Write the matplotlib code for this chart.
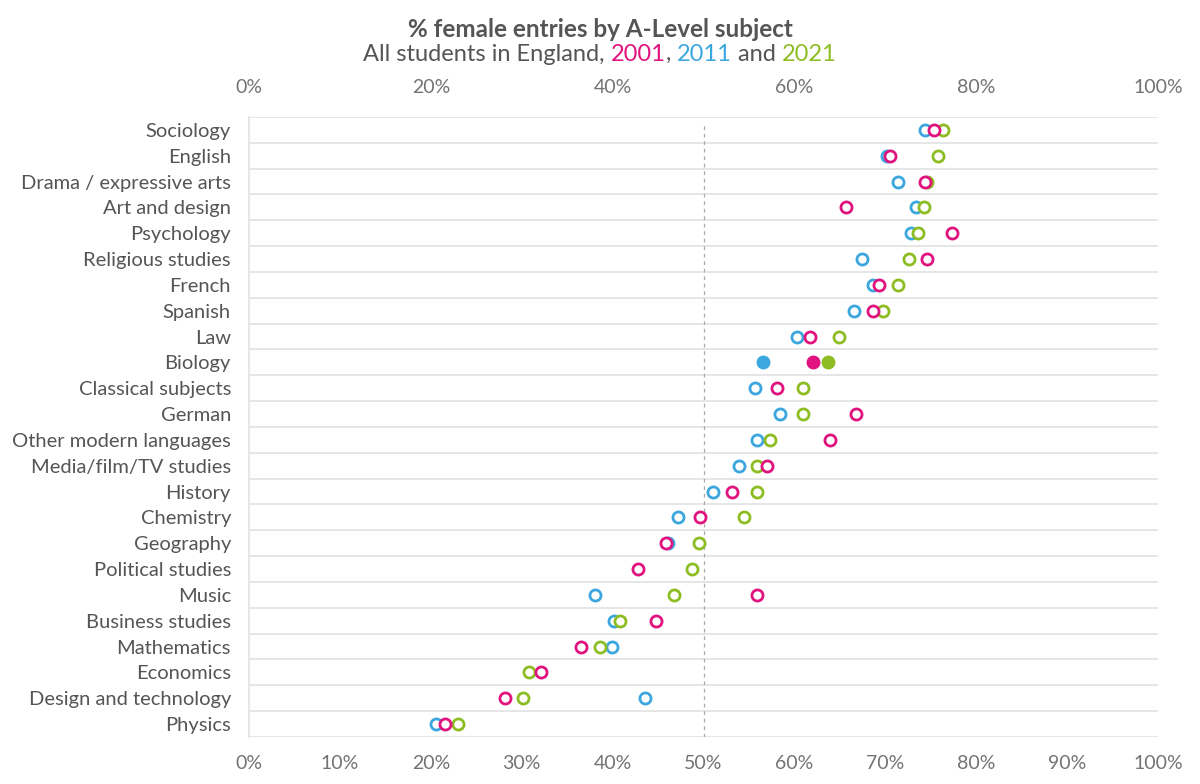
import matplotlib.pyplot as plt
import numpy as np

plt.rcParams['font.family'] = ['Lato', 'DejaVu Sans']

subjects = ['Sociology', 'English', 'Drama / expressive arts', 'Art and design', 'Psychology',
            'Religious studies', 'French', 'Spanish', 'Law', 'Biology', 'Classical subjects',
            'German', 'Other modern languages', 'Media/film/TV studies', 'History', 'Chemistry',
            'Geography', 'Political studies', 'Music', 'Business studies', 'Mathematics',
            'Economics', 'Design and technology', 'Physics']

# % female entries (nan = not shown)
pct2001 = [75.4, 70.5, 74.4, 65.7, 77.3, 74.6, 69.3, 68.7, 61.7, 62.0, 58.1, 66.8,
           63.9, 57.0, 53.1, 49.6, 45.9, 42.8, 55.9, 44.8, 36.5, 32.1, 28.2, 21.6]
pct2011 = [74.4, 70.2, 71.4, 73.4, 72.8, 67.4, 68.6, 66.6, 60.3, 56.5, 55.7, 58.4,
           55.9, 53.9, 51.0, 47.2, 46.1, np.nan, 38.1, 40.2, 39.9, np.nan, 43.6, 20.6]
pct2021 = [76.3, 75.8, 74.6, 74.3, 73.6, 72.6, 71.4, 69.7, 64.9, 63.7, 61.0, 60.9,
           57.3, 55.9, 55.9, 54.5, 49.5, 48.7, 46.8, 40.8, 38.6, 30.8, 30.1, 23.0]
highlight = 'Biology'

c2001 = '#E0137F'
c2011 = '#3BA7DE'
c2021 = '#8DBD22'
text_col = '#555555'
tick_col = '#737373'

fig = plt.figure(figsize=(12, 7.84), dpi=100)
ax = fig.add_axes([0.2075, 0.06, 0.7575, 0.7908])

y = np.arange(len(subjects))
hi = subjects.index(highlight)

# row separators
for b in np.arange(-0.5, len(subjects) + 0.5, 1):
    ax.axhline(b, color='#E4E4E4', lw=1.3, zorder=0)
ax.axvline(50, color='#AAAAAA', lw=0.9, ls=(0, (3, 3)), ymin=0.0, ymax=0.99, zorder=1)

# draw order: 2011, 2021, then 2001 on top
for vals, col in [(pct2011, c2011), (pct2021, c2021), (pct2001, c2001)]:
    vals = np.array(vals, dtype=float)
    mask = np.ones(len(vals), bool)
    mask[hi] = False
    ax.plot(vals[mask], y[mask], 'o', ms=8, mfc='white', mec=col, mew=2.0,
            ls='none', zorder=3)
    ax.plot(vals[hi], y[hi], 'o', ms=9, mfc=col, mec=col, mew=1, zorder=3)

ax.set_xlim(0, 100)
ax.set_ylim(len(subjects) - 0.5, -0.5)
ax.set_yticks(y)
ax.set_yticklabels(subjects, fontsize=14.5, color=text_col)
ax.set_xticks(np.arange(0, 101, 10))
ax.set_xticklabels([f'{v}%' for v in range(0, 101, 10)], fontsize=14, color=tick_col)
ax.tick_params(axis='both', length=0, pad=13)
ax.tick_params(axis='y', pad=13)

for s in ['top', 'right', 'bottom']:
    ax.spines[s].set_visible(False)
ax.spines['left'].set_color('#E4E4E4')
ax.spines['left'].set_linewidth(1.3)

# secondary top axis
ax2 = ax.secondary_xaxis('top')
ax2.set_xticks(np.arange(0, 101, 20))
ax2.set_xticklabels([f'{v}%' for v in range(0, 101, 20)], fontsize=14, color=tick_col)
ax2.tick_params(length=0, pad=15)
for s in ax2.spines.values():
    s.set_visible(False)

# title and coloured subtitle
fig.text(0.5, 0.962, '% female entries by A-Level subject', ha='center', va='center',
         fontsize=17.5, fontweight='bold', color=text_col)
parts = [('All students in England, ', text_col), ('2001', c2001), (', ', text_col),
         ('2011', c2011), (' and ', text_col), ('2021', c2021)]
fig.canvas.draw()
r = fig.canvas.get_renderer()
widths = []
for txt, col in parts:
    t = fig.text(0, 0, txt, fontsize=17)
    widths.append(t.get_window_extent(r).width)
    t.remove()
x = 600 - sum(widths) / 2
for (txt, col), w in zip(parts, widths):
    fig.text(x / 1200, 0.931, txt, ha='left', va='center', fontsize=17, color=col)
    x += w

fig.savefig('out.png', dpi=100)
